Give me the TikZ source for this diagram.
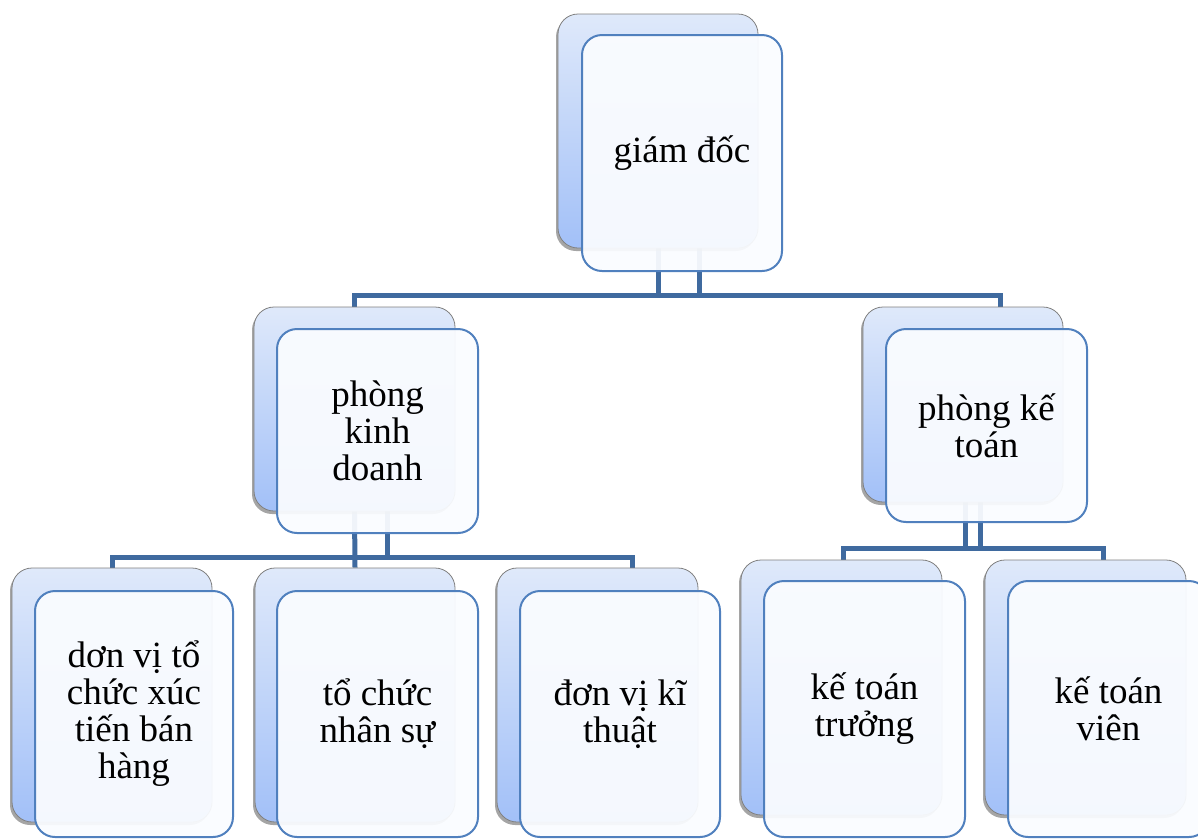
\documentclass[tikz,border=0pt]{standalone}
\usepackage{fontspec}
\setmainfont{Liberation Serif}
\usetikzlibrary{shadows,backgrounds}
\definecolor{linkblue}{HTML}{3F6A9F}
\definecolor{frameblue}{HTML}{5080BE}
\definecolor{backtop}{HTML}{DFE9FA}
\definecolor{backbot}{HTML}{A2C0F8}
\definecolor{cardfill}{HTML}{FAFCFF}
\tikzset{
  conn/.style={draw=linkblue, line width=5pt, line join=miter},
  backcard/.style={rectangle, rounded corners=20pt, draw=black!50, line width=0.8pt,
    top color=backtop, bottom color=backbot,
    drop shadow={shadow xshift=-2pt, shadow yshift=-3pt, opacity=0.5, fill=black!70},
    inner sep=0pt},
  frontcard/.style={rectangle, rounded corners=20pt, draw=frameblue, line width=2pt,
    fill=cardfill, fill opacity=0.94, text opacity=1, inner sep=0pt, align=center,
    font=\fontsize{37pt}{37pt}\selectfont},
}
\begin{document}
\begin{tikzpicture}[x=1pt, y=-1pt]
\useasboundingbox (0,0) rectangle (1198,839);

% ---- connector junctions ----
\coordinate (gdR) at (699,248);
\coordinate (busTop) at (0,295);
\coordinate (pktIn) at (1000,307);
\coordinate (pkdR) at (387,511);
\coordinate (busKD) at (0,557);
\coordinate (kdRight) at (632,568);
\coordinate (pktL) at (965,502);
\coordinate (pktR) at (980,502);
\coordinate (busKT) at (0,548);
\coordinate (ktLeft) at (843,560);
\coordinate (ktRight) at (1103,560);

% ---- back cards ----
\node[backcard, minimum width=200pt, minimum height=234pt] (gdB) at (658,131) {};
\node[backcard, minimum width=201pt, minimum height=204pt] (pkdB) at (354.5,409) {};
\node[backcard, minimum width=200pt, minimum height=195pt] (pktB) at (963,404.5) {};
\node[backcard, minimum width=200pt, minimum height=254pt] (u1B) at (112,695) {};
\node[backcard, minimum width=200pt, minimum height=254pt] (u2B) at (355,695) {};
\node[backcard, minimum width=201pt, minimum height=254pt] (u3B) at (597.5,695) {};
\node[backcard, minimum width=201pt, minimum height=255pt] (u4B) at (841.5,687.5) {};
\node[backcard, minimum width=201pt, minimum height=255pt] (u5B) at (1085.5,687.5) {};

% ---- connectors, kept behind the cards ----
\begin{scope}[on background layer]
\draw[conn] (gdB.south) -- (gdB.south |- busTop);
\draw[conn] (gdR) -- (gdR |- busTop);
\draw[conn] (pkdB.north) -- (pkdB.north |- busTop) -- (pktIn |- busTop) -- (pktIn);

\draw[conn] (pkdB.south) -- (u2B.north);
\draw[conn] (pkdR) -- (pkdR |- busKD);
\draw[conn] (u1B.north) -- (u1B.north |- busKD) -- (kdRight |- busKD) -- (kdRight);

\draw[conn] (pktL) -- (pktL |- busKT);
\draw[conn] (pktR) -- (pktR |- busKT);
\draw[conn] (ktLeft) -- (ktLeft |- busKT) -- (ktRight |- busKT) -- (ktRight);
\end{scope}

% ---- front cards with labels ----
\node[frontcard, minimum width=200pt, minimum height=236pt] (gdF) at (682,153) {giám đốc};
\node[frontcard, minimum width=201pt, minimum height=204pt] (pkdF) at (377.5,431) {phòng\\kinh\\doanh};
\node[frontcard, minimum width=201pt, minimum height=193pt] (pktF) at (986.5,425.5) {phòng kế\\toán};
\node[frontcard, minimum width=198pt, minimum height=246pt] (u1F) at (134,714) {dơn vị tổ\\chức xúc\\tiến bán\\hàng};
\node[frontcard, minimum width=201pt, minimum height=246pt] (u2F) at (377.5,714) {tổ chức\\nhân sự};
\node[frontcard, minimum width=200pt, minimum height=246pt] (u3F) at (620,714) {đơn vị kĩ\\thuật};
\node[frontcard, minimum width=201pt, minimum height=256pt] (u4F) at (864.5,709) {kế toán\\trưởng};
\node[frontcard, minimum width=201pt, minimum height=256pt] (u5F) at (1108.5,709) {kế toán\\viên};
\end{tikzpicture}
\end{document}
